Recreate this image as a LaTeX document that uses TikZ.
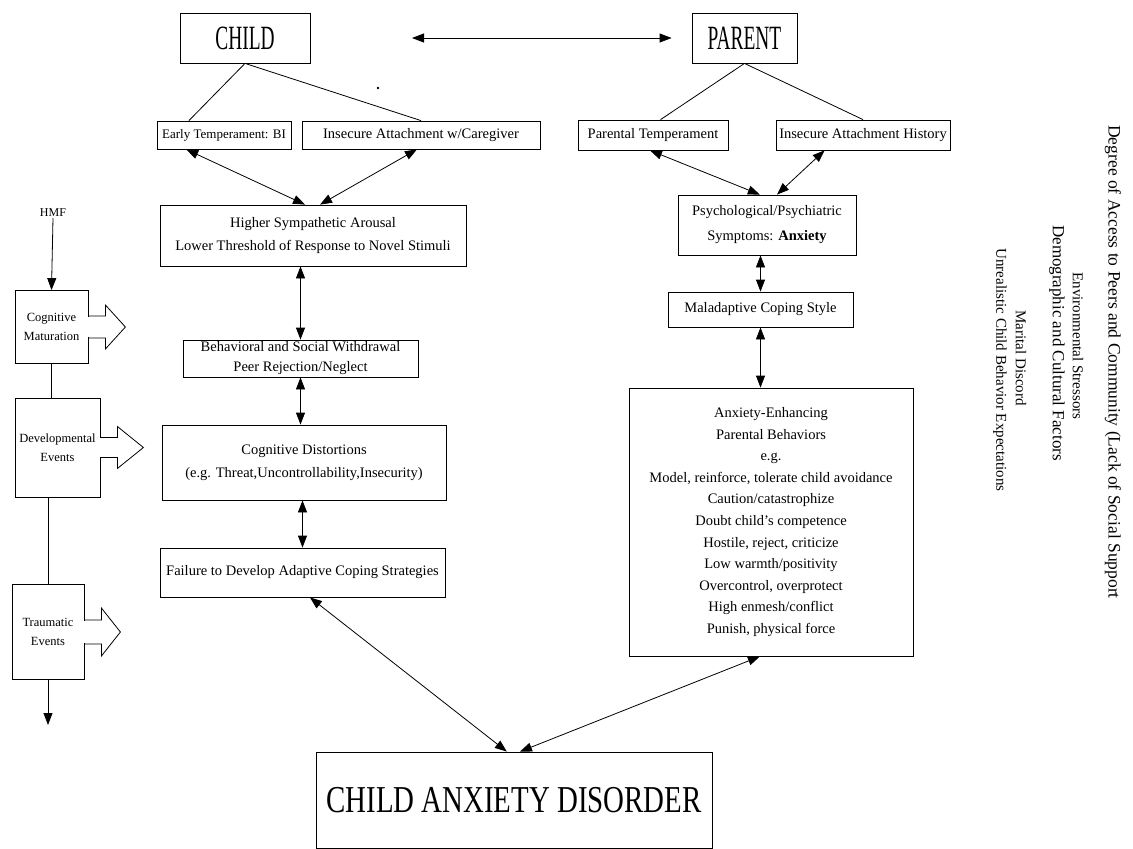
\documentclass[tikz,border=0pt]{standalone}
\usepackage{fontspec}
\usepackage{graphicx}
\setmainfont{Liberation Serif}
\usetikzlibrary{arrows.meta,calc}
% block arrow leaving a box edge: #1 anchor, #2 shaft half height, #3 head half height, #4 length
\newcommand\blockarr[4]{%
  \fill[white] ($(#1)+(-1.5,-#2+0.8)$) rectangle ($(#1)+(1.5,#2-0.8)$);
  \draw[link,line join=miter] ($(#1)+(0,-#2)$) -- ($(#1)+(17,-#2)$) -- ($(#1)+(17,-#3)$)
    -- ($(#1)+(#4,0)$) -- ($(#1)+(17,#3)$) -- ($(#1)+(17,#2)$) -- ($(#1)+(0,#2)$);
}
\newcommand\narrow[2]{\scalebox{#1}[1]{#2}}
\begin{document}
\begin{tikzpicture}[x=1pt,y=-1pt,
  box/.style={draw, line width=0.8pt, inner sep=0pt, align=center,
    font=\fontsize{14.5}{21}\selectfont},
  title/.style={box, font=\fontsize{34}{40}\selectfont},
  sidebox/.style={box, font=\fontsize{12.5}{19}\selectfont},
  side/.style={inner sep=0pt, font=\fontsize{15}{18}\selectfont, rotate=-90},
  link/.style={line width=0.8pt},
  dbl/.style={link, {Triangle[length=12pt,width=9pt]}-{Triangle[length=12pt,width=9pt]}},
  one/.style={link, -{Triangle[length=12pt,width=9pt]}},
]
\useasboundingbox (0,0) rectangle (1133,849);

% top row
\node[title, minimum width=130, minimum height=50] (child) at (245,38) {\narrow{0.57}{CHILD}};
\node[title, minimum width=105, minimum height=50] (parent) at (744.5,38) {\narrow{0.57}{PARENT}};
\coordinate (cpl) at (412,38);
\draw[dbl] (cpl) -- ($(parent.west)+(-20,0)$) coordinate (cpr);
\fill (378,88) circle (1.3);

% child side
\node[box, minimum width=134, minimum height=28, font=\fontsize{13}{16}\selectfont] (et) at (224,135) {Early Temperament: BI};
\node[box, minimum width=238, minimum height=28] (ic) at (421,135) {Insecure Attachment w/Caregiver};
\node[box, minimum width=306, minimum height=61, font=\fontsize{14.5}{23}\selectfont] (hs) at (313,235.5)
  {Higher Sympathetic Arousal\\Lower Threshold of Response to Novel Stimuli};
\node[box, minimum width=235, minimum height=37, font=\fontsize{14.5}{20}\selectfont] (bw) at (300.5,358.5)
  {Behavioral and Social Withdrawal\\Peer Rejection/Neglect};
\node[box, minimum width=284, minimum height=75, font=\fontsize{14.5}{23}\selectfont] (cd) at (304,462.5)
  {Cognitive Distortions\\(e.g. Threat,Uncontrollability,Insecurity)};
\node[box, minimum width=285, minimum height=49] (fd) at (302.5,572.5)
  {Failure to Develop Adaptive Coping Strategies};

% parent side
\node[box, minimum width=150, minimum height=30] (pt) at (653,135) {Parental Temperament};
\node[box, minimum width=174, minimum height=30] (ih) at (863,135) {Insecure Attachment History};
\node[box, minimum width=178, minimum height=60, font=\fontsize{14.5}{25}\selectfont] (ps) at (767,225)
  {Psychological/Psychiatric\\Symptoms: \textbf{Anxiety}};
\node[box, minimum width=185, minimum height=35] (mc) at (760.5,309.5) {Maladaptive Coping Style};
\node[box, minimum width=284, minimum height=268, font=\fontsize{14.5}{21.6}\selectfont] (ae) at (771,522)
  {Anxiety-Enhancing\\Parental Behaviors\\e.g.\\Model, reinforce, tolerate child avoidance\\
   Caution/catastrophize\\Doubt child's competence\\Hostile, reject, criticize\\
   Low warmth/positivity\\Overcontrol, overprotect\\High enmesh/conflict\\Punish, physical force};

% outcome
\node[box, minimum width=396, minimum height=96, font=\fontsize{38}{44}\selectfont] (cad) at (514,800)
  {\narrow{0.76}{CHILD ANXIETY DISORDER}};

% tree lines from the two roots
\draw[link] (child.south) -- ($(et.north west)!0.24!(et.north east)$);
\draw[link] (child.south) -- (ic.north);
\draw[link] (parent.south) -- ($(pt.north west)!0.55!(pt.north east)$);
\draw[link] (parent.south) -- (ih.north);

% child chain
\draw[dbl] ($(et.south west)!0.22!(et.south east)$) -- ($(hs.north west)!0.474!(hs.north east)$);
\draw[dbl] ($(ic.south west)!0.483!(ic.south east)$) -- ($(hs.north west)!0.523!(hs.north east)$);
\draw[dbl] (hs.south -| bw.north) -- (bw.north);
\draw[dbl] (bw.south) -- (cd.north -| bw.south);
\draw[dbl] (cd.south -| fd.north) -- (fd.north);
\draw[dbl] ($(fd.south west)!0.526!(fd.south east)$) -- ($(cad.north west)!0.482!(cad.north east)$);

% parent chain
\draw[dbl] ($(pt.south west)!0.48!(pt.south east)$) -- ($(ps.north west)!0.46!(ps.north east)$);
\draw[dbl] ($(ih.south west)!0.28!(ih.south east)$) -- ($(ps.north west)!0.556!(ps.north east)$);
\draw[dbl] (ps.south -| mc.north) -- (mc.north);
\draw[dbl] (mc.south) -- (ae.north -| mc.south);
\draw[dbl] ($(cad.north west)!0.515!(cad.north east)$) -- ($(ae.south west)!0.461!(ae.south east)$);

% developmental time line
\node[inner sep=1pt, font=\fontsize{12}{14}\selectfont] (hmf) at (53,213) {HMF};
\node[sidebox, minimum width=73, minimum height=73] (cm) at (51.5,327) {Cognitive\\Maturation};
\node[sidebox, minimum width=85, minimum height=99] (de) at (57.5,447.5) {Developmental\\Events};
\node[sidebox, minimum width=72, minimum height=95] (te) at (48,632) {Traumatic\\Events};
\coordinate (tend) at (48,725);
\draw[one] (hmf.south) -- (cm.north);
\draw[link] (cm.south) -- (de.north -| cm.south);
\draw[link] (de.south -| te.north) -- (te.north);
\draw[one] (te.south) -- (tend);
\blockarr{cm.east}{11}{22}{37}
\blockarr{de.east}{10}{21}{43}
\blockarr{te.east}{12}{24}{36}

% contextual factors
\node[side, font=\fontsize{17.5}{20}\selectfont] (f1) at (1113,362) {Degree of Access to Peers and Community (Lack of Social Support};
\node[side] (f2) at (1078,346) {Environmental Stressors};
\node[side, font=\fontsize{17}{20}\selectfont] (f3) at (1057,343) {Demographic and Cultural Factors};
\node[side] (f4) at (1021,358) {Marital Discord};
\node[side] (f5) at (1000,370) {Unrealistic Child Behavior Expectations};
\end{tikzpicture}
\end{document}
